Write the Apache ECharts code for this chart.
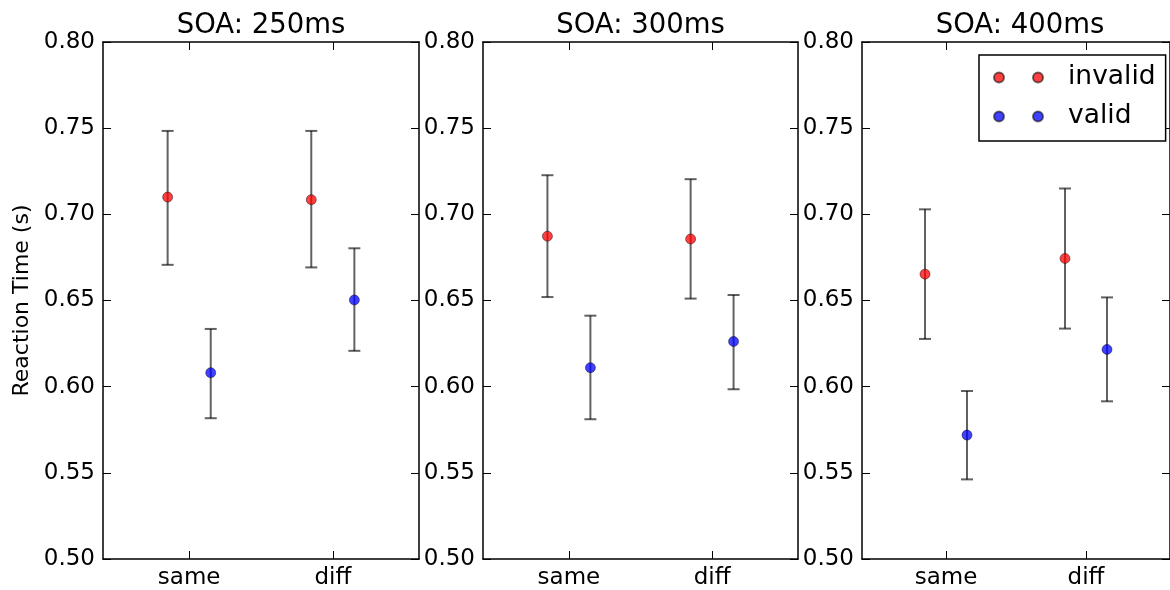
<!DOCTYPE html>
<html>
<head>
<meta charset="utf-8">
<script src="https://cdn.jsdelivr.net/npm/echarts@6/dist/echarts.min.js"></script>
<style>
html,body{margin:0;padding:0;background:#fff;}
#chart{width:1170px;height:590px;}
</style>
</head>
<body>
<div id="chart"></div>
<script>
// ---- data ----
const categories = ['same', 'diff'];
const panelTitles = ['SOA: 250ms', 'SOA: 300ms', 'SOA: 400ms'];
const seriesNames = ['invalid', 'valid'];
// per panel: [same, diff]
const invalidMean = [[0.710, 0.7085], [0.6873, 0.6857], [0.6653, 0.6744]];
const invalidLow  = [[0.6707, 0.6692], [0.6520, 0.6511], [0.6277, 0.6337]];
const invalidHigh = [[0.7484, 0.7484], [0.7227, 0.7204], [0.7029, 0.7150]];
const validMean   = [[0.6081, 0.6503], [0.6110, 0.6262], [0.5719, 0.6216]];
const validLow    = [[0.5817, 0.6208], [0.5811, 0.5985], [0.5462, 0.5915]];
const validHigh   = [[0.6335, 0.6803], [0.6412, 0.6532], [0.5975, 0.6518]];
const yMin = 0.50, yMax = 0.80, yStep = 0.05;
const yLabel = 'Reaction Time (s)';

// ---- layout / style ----
const FONT = 'DejaVu Sans';
const panelLeft = [103, 483, 862];
const panelWidth = [316, 315, 316];
const panelTop = 42, panelHeight = 520;
const xMin = -0.6, xMax = 1.6;
const offsets = [-0.15, 0.15];
const colors = ['rgba(255,0,0,0.75)', 'rgba(0,0,255,0.75)'];
const errColor = 'rgba(0,0,0,0.62)';

const chart = echarts.init(document.getElementById('chart'), null, {renderer: 'canvas'});

const grids = [], xAxes = [], yAxes = [], series = [], titles = [];
const catIdx = categories.map((c, i) => i);

function errItem(params, api) {
  const x = api.value(0);
  const lo = api.coord([x, api.value(1)]);
  const hi = api.coord([x, api.value(2)]);
  const cw = 6;
  const style = {stroke: errColor, lineWidth: 2};
  return {
    type: 'group',
    children: [
      {type: 'line', shape: {x1: lo[0], y1: lo[1], x2: hi[0], y2: hi[1]}, style},
      {type: 'line', shape: {x1: lo[0] - cw, y1: lo[1], x2: lo[0] + cw, y2: lo[1]}, style},
      {type: 'line', shape: {x1: hi[0] - cw, y1: hi[1], x2: hi[0] + cw, y2: hi[1]}, style}
    ]
  };
}

for (let p = 0; p < 3; p++) {
  grids.push({left: panelLeft[p], top: panelTop, width: panelWidth[p], height: panelHeight, containLabel: false});
  titles.push({
    text: panelTitles[p], left: panelLeft[p] + panelWidth[p] / 2, top: 12, textAlign: 'center', padding: 0,
    textStyle: {fontFamily: FONT, fontSize: 27.5, fontWeight: 'normal', color: '#000'}
  });
  const axisLine = {show: true, onZero: false, lineStyle: {color: '#000', width: 1.5}};
  // bottom x
  xAxes.push({
    type: 'value', gridIndex: p, min: xMin, max: xMax, position: 'bottom',
    axisLine,
    splitLine: {show: false},
    axisTick: {show: true, inside: true, length: 8, customValues: catIdx, lineStyle: {color: '#000', width: 1}},
    axisLabel: {show: true, customValues: catIdx, margin: 8, fontFamily: FONT, fontSize: 23, color: '#000',
      formatter: v => categories[Math.round(v)] || ''}
  });
  // top x (ticks only)
  xAxes.push({
    type: 'value', gridIndex: p, min: xMin, max: xMax, position: 'top',
    axisLine,
    splitLine: {show: false},
    axisTick: {show: true, inside: true, length: 8, customValues: catIdx, lineStyle: {color: '#000', width: 1}},
    axisLabel: {show: false}
  });
  // left y
  yAxes.push({
    type: 'value', gridIndex: p, min: yMin, max: yMax, interval: yStep, position: 'left',
    axisLine,
    splitLine: {show: false},
    axisTick: {show: true, inside: true, length: 8, lineStyle: {color: '#000', width: 1}},
    axisLabel: {show: true, margin: 8, fontFamily: FONT, fontSize: 23, color: '#000',
      formatter: v => v.toFixed(2)},
    name: p === 0 ? yLabel : '',
    nameLocation: 'middle', nameRotate: 90, nameGap: 70,
    nameTextStyle: {fontFamily: FONT, fontSize: 22, color: '#000'}
  });
  // right y (ticks only)
  yAxes.push({
    type: 'value', gridIndex: p, min: yMin, max: yMax, interval: yStep, position: 'right',
    axisLine,
    splitLine: {show: false},
    axisTick: {show: true, inside: true, length: 8, lineStyle: {color: '#000', width: 1}},
    axisLabel: {show: false}
  });

  const groups = [
    {mean: invalidMean[p], low: invalidLow[p], high: invalidHigh[p]},
    {mean: validMean[p], low: validLow[p], high: validHigh[p]}
  ];
  groups.forEach((g, s) => {
    series.push({
      type: 'custom', name: seriesNames[s] + '_err', xAxisIndex: 2 * p, yAxisIndex: 2 * p,
      renderItem: errItem, encode: {x: 0, y: [1, 2]}, z: 2, silent: true,
      data: categories.map((c, i) => [i + offsets[s], g.low[i], g.high[i]])
    });
    series.push({
      type: 'scatter', name: seriesNames[s], xAxisIndex: 2 * p, yAxisIndex: 2 * p,
      symbol: 'circle', symbolSize: 10, z: 3,
      itemStyle: {color: colors[s], borderColor: 'rgba(0,0,0,0.55)', borderWidth: 0.8, opacity: 1},
      data: categories.map((c, i) => [i + offsets[s], g.mean[i]])
    });
  });
}

const option = {
  animation: false,
  backgroundColor: '#fff',
  title: titles,
  grid: grids,
  xAxis: xAxes,
  yAxis: yAxes,
  legend: {
    data: seriesNames,
    orient: 'vertical', left: 979, top: 55,
    padding: [9, 10, 11, 14],
    itemGap: 12, itemWidth: 49, itemHeight: 10,
    icon: 'path://M0,5A5,5 0 1 1 10,5A5,5 0 1 1 0,5Z M39,5A5,5 0 1 1 49,5A5,5 0 1 1 39,5Z',
    borderColor: '#000', borderWidth: 1.5, borderRadius: 0,
    backgroundColor: '#fff',
    selectedMode: false,
    textStyle: {fontFamily: FONT, fontSize: 26.5, color: '#000', padding: [0, 0, 0, 20]}
  },
  series
};
chart.setOption(option);
</script>
</body>
</html>
